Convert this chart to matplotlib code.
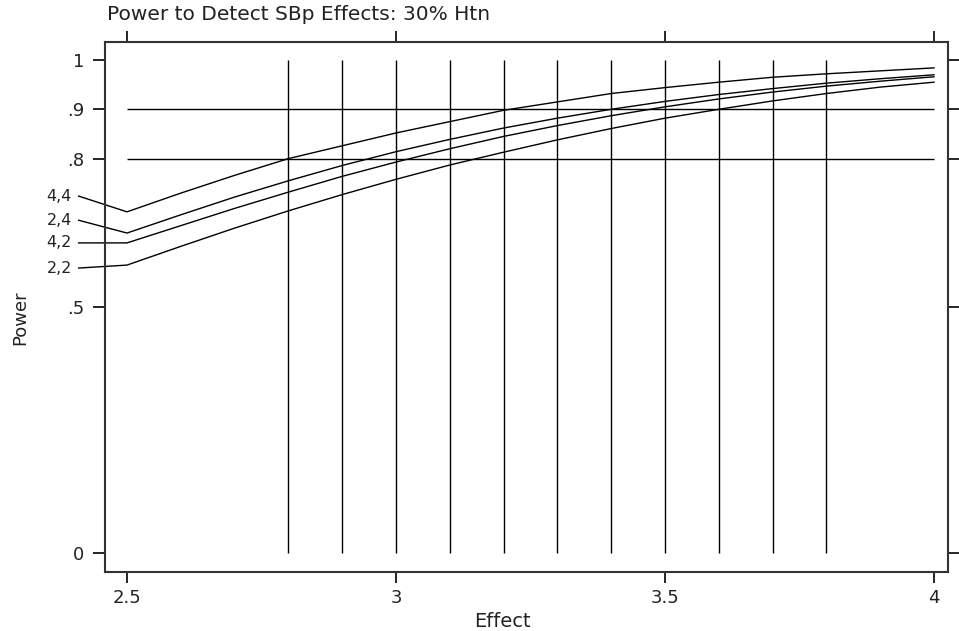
import matplotlib
matplotlib.use("Agg")
import matplotlib.pyplot as plt

# ---- data ----
effect = [2.41, 2.5, 2.6, 2.7, 2.8, 2.9, 3.0, 3.1, 3.2, 3.3, 3.4, 3.5, 3.6, 3.7, 3.8, 3.9, 4.0]
series_labels = ["4,4", "2,4", "4,2", "2,2"]
power_44 = [0.724, 0.692, 0.730, 0.766, 0.800, 0.826, 0.852, 0.875, 0.898, 0.915, 0.932, 0.944, 0.955, 0.965, 0.972, 0.978, 0.984]
power_24 = [0.675, 0.649, 0.686, 0.722, 0.755, 0.786, 0.814, 0.839, 0.862, 0.882, 0.900, 0.916, 0.930, 0.942, 0.953, 0.962, 0.970]
power_42 = [0.629, 0.629, 0.664, 0.699, 0.732, 0.764, 0.793, 0.820, 0.845, 0.867, 0.887, 0.905, 0.921, 0.935, 0.947, 0.957, 0.966]
power_22 = [0.578, 0.584, 0.622, 0.659, 0.694, 0.727, 0.758, 0.787, 0.813, 0.838, 0.861, 0.882, 0.900, 0.917, 0.932, 0.945, 0.955]
series = [power_44, power_24, power_42, power_22]

xticks = [2.5, 3, 3.5, 4]
xticklabels = ["2.5", "3", "3.5", "4"]
yticks = [0, 0.5, 0.8, 0.9, 1]
yticklabels = ["0", ".5", ".8", ".9", "1"]
vgrid = [2.8, 2.9, 3.0, 3.1, 3.2, 3.3, 3.4, 3.5, 3.6, 3.7, 3.8]
hgrid = [0.8, 0.9]

title = "Power to Detect SBp Effects: 30% Htn"

# ---- figure ----
W, H = 959, 631
fig = plt.figure(figsize=(W / 100, H / 100), dpi=100)
ax = fig.add_axes([105 / W, (H - 572) / H, 843 / W, 530 / H])

ax.set_xlim(2.5 - 22 / 538, 4 + 14 / 538)
ax.set_ylim(-19 / 493, 1 + 18 / 493)

ax.vlines(vgrid, 0, 1, colors="black", linewidth=1.0)
ax.hlines(hgrid, 2.5, 4, colors="black", linewidth=1.0)

for lab, vals in zip(series_labels, series):
    ax.plot(effect, vals, color="black", linewidth=1.0, clip_on=False)
    ax.text(effect[0] - 0.012, vals[0], lab, ha="right", va="center",
            fontsize=11.5, color="#222222", clip_on=False)

for s in ax.spines.values():
    s.set_linewidth(1.5)
    s.set_color("#333333")

ax.set_xticks(xticks)
ax.set_xticklabels(xticklabels, fontsize=13, color="#222222")
ax.set_yticks(yticks)
ax.set_yticklabels(yticklabels, fontsize=13, color="#222222")
ax.tick_params(axis="x", direction="out", length=8, width=1.2, top=True, bottom=True, pad=4)
ax.tick_params(axis="y", direction="out", length=9, width=1.2, left=True, right=True, pad=6)

ax.set_xlabel("Effect", fontsize=14, color="#222222")
ax.xaxis.set_label_coords((502 - 105) / 843, (572 - 612) / 530)
ax.set_ylabel("Power", fontsize=13, color="#222222")
ax.yaxis.set_label_coords((20 - 105) / 843, (572 - 318) / 530)
ax.yaxis.label.set_verticalalignment("center")

fig.text(107 / W, 1 - 15 / H, title, ha="left", va="center", fontsize=14.5, color="#222222")

fig.savefig("out.png", dpi=100)
